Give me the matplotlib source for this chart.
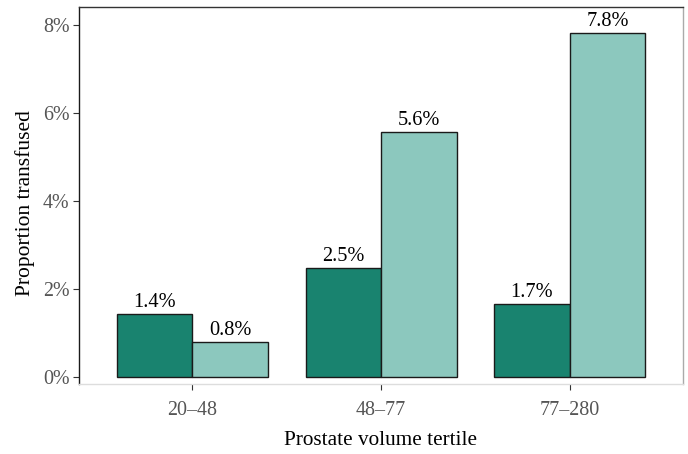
import numpy as np
import matplotlib.pyplot as plt

plt.rcParams['font.family'] = ['Liberation Serif', 'DejaVu Serif']

tertiles = ['20–48', '48–77', '77–280']
group_a = [1.43, 2.48, 1.66]   # dark teal
group_b = [0.79, 5.57, 7.82]   # light teal

dark = '#19836f'
light = '#8cc8be'

fig = plt.figure(figsize=(6.88, 4.54), dpi=100)
ax = fig.add_axes([79 / 688, 1 - 384 / 454, (683 - 79) / 688, (384 - 7) / 454])

x = np.arange(1, len(tertiles) + 1)
w = 0.4
bars_a = ax.bar(x - w / 2, group_a, w, color=dark, edgecolor='#1a1a1a', linewidth=1)
bars_b = ax.bar(x + w / 2, group_b, w, color=light, edgecolor='#1a1a1a', linewidth=1)

for bars, vals in [(bars_a, group_a), (bars_b, group_b)]:
    for b, v in zip(bars, vals):
        ax.text(b.get_x() + b.get_width() / 2, v + 0.05, f'{v:.1f}%',
                ha='center', va='bottom', fontsize=14.7, color='black')

ax.set_xlim(0.4, 3.6)
ax.set_ylim(-0.16, 8.41)
ax.set_xticks(x)
ax.set_xticklabels(tertiles)
ax.set_yticks([0, 2, 4, 6, 8])
ax.set_yticklabels(['0%', '2%', '4%', '6%', '8%'])
ax.tick_params(axis='both', labelsize=14.4, labelcolor='#555555', color='#333333', length=4)
ax.tick_params(axis='x', pad=8)
ax.tick_params(axis='y', pad=3)
ax.set_xlabel('Prostate volume tertile', fontsize=15.3, labelpad=8)
ax.set_ylabel('Proportion transfused', fontsize=15.5)
ax.yaxis.set_label_coords(-0.073, 0.48)

ax.spines['left'].set_color('#1a1a1a')
ax.spines['top'].set_color('#333333')
ax.spines['right'].set_color('#aaaaaa')
ax.spines['bottom'].set_color('#dddddd')
for s in ax.spines.values():
    s.set_linewidth(1)

fig.savefig('out.png', dpi=100)
